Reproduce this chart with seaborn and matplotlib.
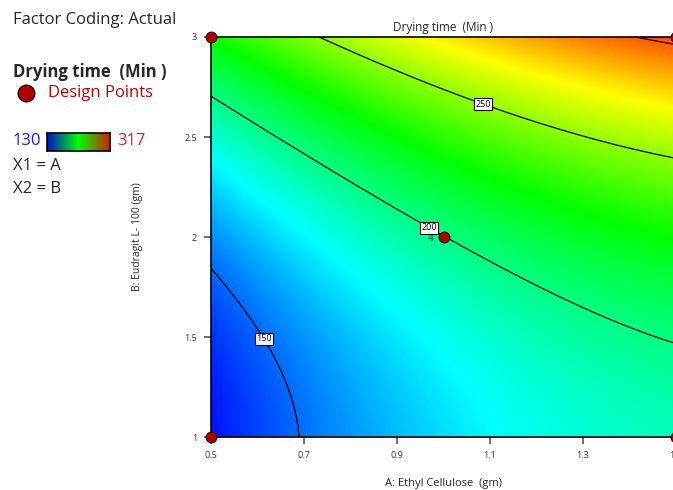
import matplotlib
matplotlib.use("Agg")
import matplotlib.pyplot as plt
import numpy as np
import pandas as pd
import seaborn as sns
from matplotlib.lines import Line2D

# design points (actual factor values) and replicate counts
design_a = [0.5, 0.5, 1.5, 1.5, 1.0]
design_b = [1.0, 3.0, 3.0, 1.0, 2.0]
design_n = [1, 1, 1, 1, 4]

# quadratic model in coded units, estimated from the contours in the picture
# terms: intercept, a, b, ab, a^2, b^2
coef = [199.7, 33.7, 51.4, 5.75, -9.4, 22.7]

z_min, z_max = 130, 317
contour_levels = [150, 200, 250, 300]
label_levels = [150, 200, 250]
label_pos = [(0.616, 1.495), (0.975, 2.07), (1.089, 2.685)]

x_ticks = [0.5, 0.7, 0.9, 1.1, 1.3, 1.5]
y_ticks = [1, 1.5, 2, 2.5, 3]
y_tick_labels = ["1", "1.5", "2", "2.5", "3"]


def predict(A, B):
    a = (A - 1.0) / 0.5
    b = (B - 2.0) / 1.0
    return (coef[0] + coef[1] * a + coef[2] * b + coef[3] * a * b
            + coef[4] * a ** 2 + coef[5] * b ** 2)


sns.set_style("white")
plt.rcParams["font.family"] = ["Open Sans", "DejaVu Sans"]

cmap = sns.blend_palette(["#0000ff", "#00ffff", "#00ff00", "#ffff00", "#ff0000"], as_cmap=True)
legend_cmap = sns.blend_palette(["#0010d0", "#00ff00", "#d02000"], as_cmap=True)

W, H = 673, 490
fig = plt.figure(figsize=(W / 100, H / 100), dpi=100)
ax = fig.add_axes([211 / W, 1 - 437 / H, 465 / W, 400 / H])

A, B = np.meshgrid(np.linspace(0.5, 1.5, 300), np.linspace(1, 3, 300))
Z = predict(A, B)
ax.imshow(Z, extent=[0.5, 1.5, 1, 3], origin="lower", aspect="auto",
          cmap=cmap, vmin=z_min, vmax=z_max, interpolation="bilinear")
cs = ax.contour(A, B, Z, levels=contour_levels, colors="black", linewidths=0.9)
texts = ax.clabel(cs, levels=label_levels, manual=label_pos, inline=False,
                  fmt="%d", fontsize=6.5)
for t in texts:
    t.set_rotation(0)
    t.set_bbox(dict(facecolor="white", edgecolor="black", pad=1.0, linewidth=0.8))

df = pd.DataFrame({"A": design_a, "B": design_b, "n": design_n})
sns.scatterplot(data=df, x="A", y="B", ax=ax, s=60, color="#b00000",
                edgecolor="#400000", linewidth=0.8, clip_on=False, zorder=5, legend=False)
for _, r in df[df["n"] > 1].iterrows():
    ax.text(r["A"] - 0.022, r["B"] - 0.005, str(int(r["n"])), fontsize=7, color="#333333",
            ha="right", va="center")

ax.set_xlim(0.5, 1.5)
ax.set_ylim(1, 3)
ax.set_xticks(x_ticks)
ax.set_xticklabels([f"{v:.1f}" for v in x_ticks])
ax.set_yticks(y_ticks)
ax.set_yticklabels(y_tick_labels)
ax.tick_params(axis="both", bottom=True, left=True, direction="out", length=5, width=1.2,
               color="#555555", labelsize=6.5, labelcolor="#333333", pad=5)
for s in ax.spines.values():
    s.set_color("black")
    s.set_linewidth(1.2)

ax.set_title("Drying time  (Min )", fontsize=8.5, pad=4)
ax.set_xlabel("A: Ethyl Cellulose  (gm)", fontsize=8, labelpad=13)
ax.set_ylabel("B: Eudragit L- 100 (gm)", fontsize=7.5, labelpad=30)

# left side annotation panel
fig.text(13 / W, 1 - 20 / H, "Factor Coding: Actual", fontsize=12, va="center")
fig.text(13 / W, 1 - 72 / H, "Drying time  (Min )", fontsize=12, fontweight="bold", va="center")
fig.add_artist(Line2D([26 / W], [1 - 93 / H], marker="o", markersize=12, color="#b00000",
                      markeredgecolor="#300000", transform=fig.transFigure))
fig.text(48 / W, 1 - 93 / H, "Design Points", fontsize=12, color="#c00000", va="center")
fig.text(13 / W, 1 - 141 / H, str(z_min), fontsize=12, color="#1a1aff", va="center")
fig.text(117 / W, 1 - 141 / H, str(z_max), fontsize=12, color="#e02020", va="center")
cax = fig.add_axes([47 / W, 1 - 151 / H, 63 / W, 18 / H])
cax.imshow(np.linspace(0, 1, 256)[None, :], aspect="auto", cmap=legend_cmap)
cax.set_xticks([])
cax.set_yticks([])
for s in cax.spines.values():
    s.set_color("black")
    s.set_linewidth(1.2)
fig.text(13 / W, 1 - 166 / H, "X1 = A", fontsize=12, va="center")
fig.text(13 / W, 1 - 189 / H, "X2 = B", fontsize=12, va="center")

fig.savefig("out.png", dpi=100)
